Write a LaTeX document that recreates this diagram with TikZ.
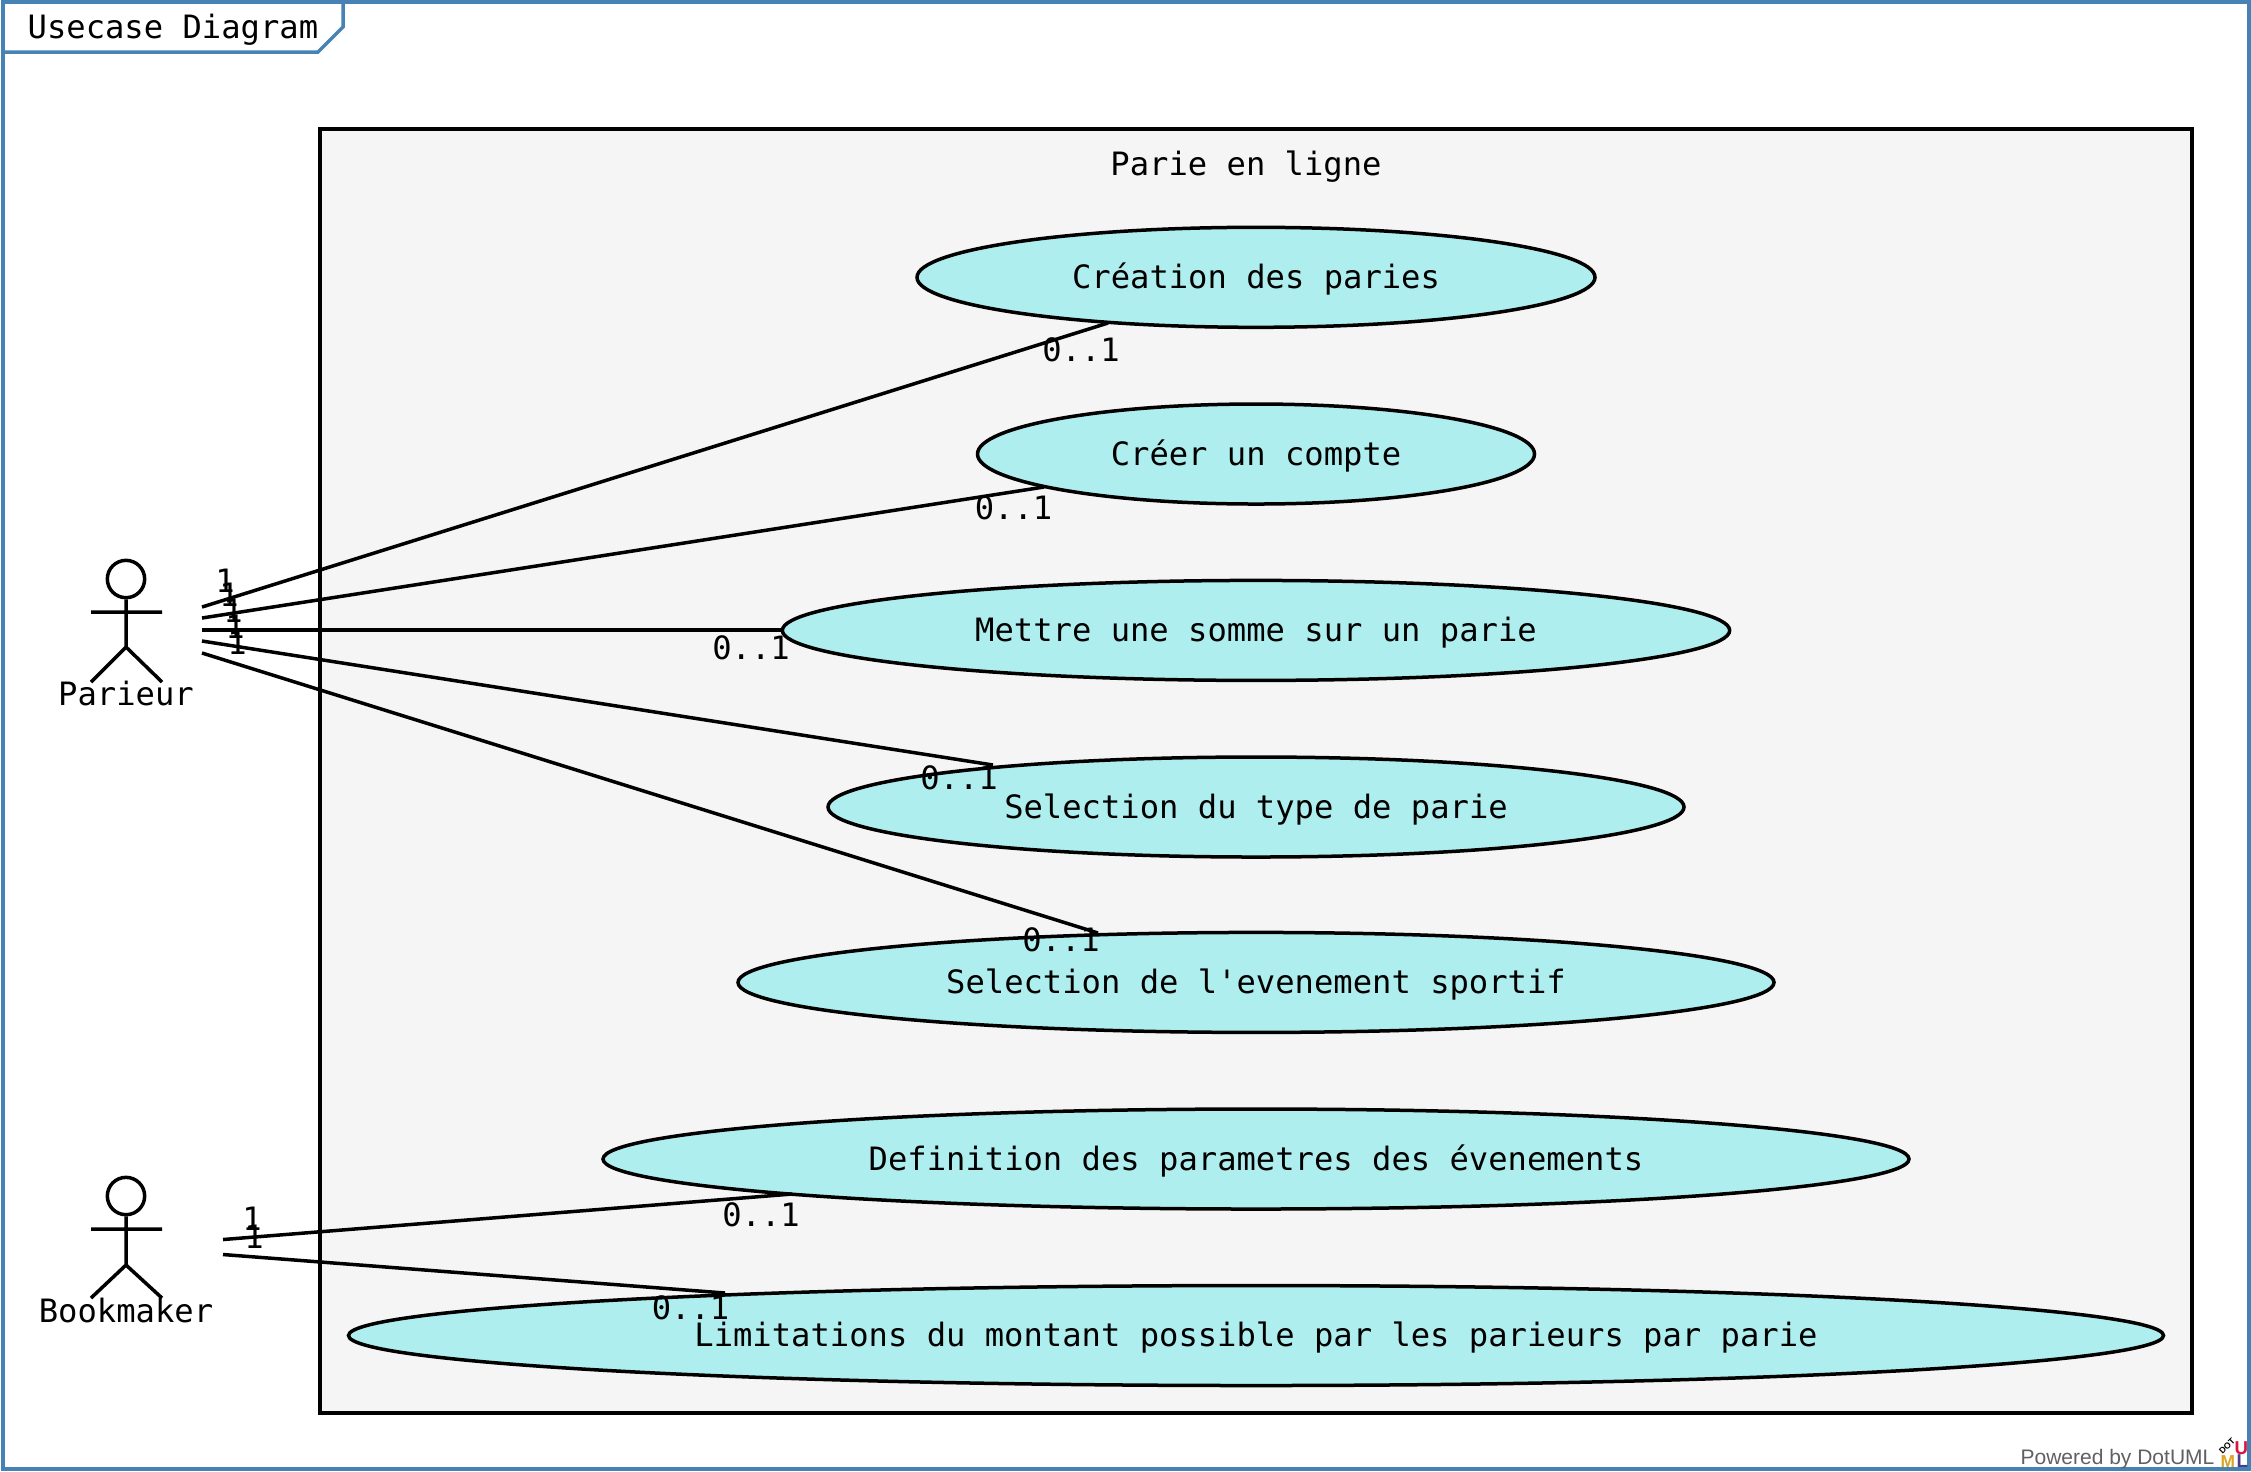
\documentclass[tikz,border=0pt]{standalone}
\usepackage{fontspec}
\usetikzlibrary{shapes.geometric,calc}
\newfontfamily\lblfont{DejaVu Sans Mono}
\setmainfont{Liberation Sans}
\definecolor{framec}{HTML}{4682B4}
\definecolor{pkgc}{HTML}{F5F5F5}
\definecolor{ucc}{HTML}{AFEEEE}
\definecolor{poweredc}{HTML}{606060}
\definecolor{logoU}{HTML}{DC143C}
\definecolor{logoM}{HTML}{DAA520}
\definecolor{logoL}{HTML}{483D8B}
\tikzset{
  x=0.3pt,y=-0.3pt,
  lbl/.style={font=\lblfont\fontsize{9.65}{11}\selectfont,inner sep=0pt,text=black},
  usecase/.style={ellipse,draw=black,line width=1.05pt,fill=ucc,inner sep=0pt,minimum height=30pt,lbl,text height=8.8pt,text depth=2pt},
  stick/.style={draw=black,line width=1.05pt},
  assoc/.style={draw=black,line width=1.05pt},
  framel/.style={draw=framec,line width=1.05pt},
  mult/.style={lbl,anchor=base},
  headc/.style={circle,draw=black,line width=1.05pt,minimum size=11.2pt,inner sep=0pt},
}
\begin{document}
\begin{tikzpicture}
\useasboundingbox (0,0) rectangle (2251,1471);
\fill[white] (0,0) rectangle (2251,1471);
% frame
\draw[framel] (3,2) rectangle (2249,1469);
\draw[framel,fill=white] (3,2) -- (343,2) -- (343,27) -- (318,52) -- (3,52) -- cycle;
\node[lbl,anchor=base west] (title) at (27,38.5) {Usecase Diagram};
% package
\draw[line width=1.05pt,fill=pkgc] (320,129) rectangle (2192,1413);
\node[lbl,anchor=base] (pkg) at (1246,175.5) {Parie en ligne};
% use cases
\node[usecase,minimum width=203.4pt] (e1) at (1256,277.3)   {Création des paries};
\node[usecase,minimum width=167.1pt] (e2) at (1256,454) {Créer un compte};
\node[usecase,minimum width=284.2pt] (e3) at (1256,630.4)   {Mettre une somme sur un parie};
\node[usecase,minimum width=256.8pt] (e4) at (1256,807) {Selection du type de parie};
\node[usecase,minimum width=310.8pt] (e5) at (1256,982.4)   {Selection de l'evenement sportif};
\node[usecase,minimum width=391.8pt] (e6) at (1256,1159){Definition des parametres des évenements};
\node[usecase,minimum width=544.5pt] (e7) at (1256,1335.5)  {Limitations du montant possible par les parieurs par parie};
% actors
\node[headc] (head1) at (126,579) {};
\draw[stick] (head1.south) -- (126,647) (91,612) -- (162,612) (91,682) -- (126,647) -- (162,682);
\node[lbl,anchor=base] (parieur) at (126,705) {Parieur};
\node[headc] (head2) at (126,1196) {};
\draw[stick] (head2.south) -- (126,1265) (91,1229) -- (162,1229) (91,1298) -- (126,1265) -- (162,1298);
\node[lbl,anchor=base] (bookmaker) at (126,1322) {Bookmaker};
% connector ends
\coordinate (p1) at (202,607);
\coordinate (p2) at (202,618);
\coordinate (p3) at (202,630);
\coordinate (p4) at (202,641);
\coordinate (p5) at (202,653);
\coordinate (b1) at (223,1239.5);
\coordinate (b2) at (223,1254.5);
\coordinate (a1) at ($(e1)+(-148,45.7)$);
\coordinate (a2) at ($(e2)+(-212,33)$);
\coordinate (a3) at ($(e3)+(-474,-0.4)$);
\coordinate (a4) at ($(e4)+(-263,-42)$);
\coordinate (a5) at ($(e5)+(-158,-49.4)$);
\coordinate (a6) at ($(e6)+(-464,35)$);
\coordinate (a7) at ($(e7)+(-531,-42.5)$);
\draw[assoc] (p1) -- (a1);
\draw[assoc] (p2) -- (a2);
\draw[assoc] (p3) -- (a3);
\draw[assoc] (p4) -- (a4);
\draw[assoc] (p5) -- (a5);
\draw[assoc] (b1) -- (a6);
\draw[assoc] (b2) -- (a7);
% multiplicities
\node[mult] (m1) at (225,592) {1};
\node[mult] (m2) at (229,606) {1};
\node[mult] (m3) at (233,622) {1};
\node[mult] (m4) at (235,638) {1};
\node[mult] (m5) at (237,654) {1};
\node[mult] (m6) at (252,1230) {1};
\node[mult] (m7) at (254,1248) {1};
\node[lbl] (z1) at (1081,350) {0..1};
\node[lbl] (z2) at (1013.5,508) {0..1};
\node[lbl] (z3) at (751,647.5) {0..1};
\node[lbl] (z4) at (959,778) {0..1};
\node[lbl] (z5) at (1061,940) {0..1};
\node[lbl] (z6) at (761,1214.5) {0..1};
\node[lbl] (z7) at (690.5,1308) {0..1};
% footer
\node[anchor=base east,inner sep=0pt,text=poweredc,font=\fontsize{6.3}{7}\selectfont] (pw) at (2215,1464) {Powered by DotUML};
\node[anchor=base west,inner sep=0pt,text=logoU,font=\bfseries\fontsize{5.6}{6}\selectfont] (lu) at (2234,1454) {U};
\node[anchor=base west,inner sep=0pt,text=logoM,font=\bfseries\fontsize{5.2}{6}\selectfont] (lm) at (2220,1467) {M};
\node[anchor=base west,inner sep=0pt,text=logoL,font=\bfseries\fontsize{5.6}{6}\selectfont] (ll) at (2236,1467) {L};
\node[inner sep=0pt,rotate=45,text=black,font=\bfseries\fontsize{2.6}{3}\selectfont] (ld) at (2227,1446) {DOT};
\end{tikzpicture}
\end{document}
